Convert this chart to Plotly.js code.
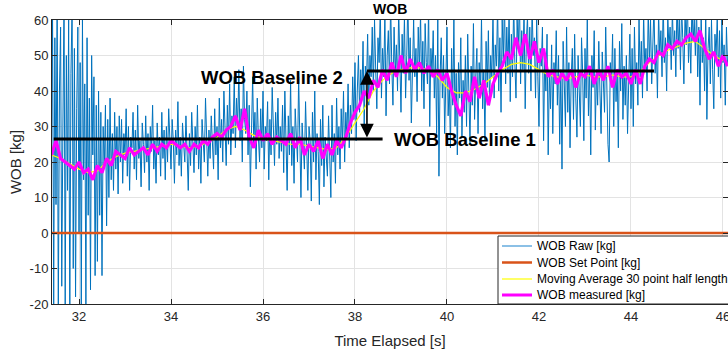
<!DOCTYPE html>
<html>
<head>
<meta charset="utf-8">
<script src="https://cdn.plot.ly/plotly-3.0.1.min.js"></script>
<style>html,body{margin:0;padding:0;background:#fff;}#chart{width:728px;height:353px;}</style>
</head>
<body>
<div id="chart"></div>
<script>
// ---- Data ----
var rawStart = 31.40, rawStep = 0.025;
var wobRaw = [
  20, 62, -20, 55, 8, 68, -24, 40, 58, -15, 30, 66, -22, 50, 12, 60, -25, 45, 64, -10,
  52, -18, 35, 58, 0, 48, -22, 60, 15, 42, -20, 55, 5, 38, -16, 50, 22, 44, -12, 36,
  -8, 40, 5, 34, -12, 30, 18, 36, 2, 32, 10, 38, 15, 28, 12, 34, 18, 30, 11, 33,
  20, 32, 14, 28, 22, 35, 16, 30, 12, 27, 24, 34, 18, 29, 15, 36, 21, 26, 13, 31,
  25, 17, 33, 20, 28, 12, 30, 23, 36, 18, 26, 14, 31, 22, 27, 16, 34, 21, 29, 15,
  30, 20, 35, 24, 18, 32, 26, 14, 29, 22, 37, 19, 27, 16, 31, 25, 20, 33, 23, 12,
  28, 19, 34, 24, 17, 30, 22, 36, 18, 27, 14, 32, 25, 20, 38, 23, 16, 29, 21, 33,
  26, 18, 35, 22, 30, 15, 38, 24, 32, 20, 40, 27, 19, 36, 25, 42, 22, 33, 28, 44,
  24, 38, 30, 46, 26, 35, 20, 47, 32, 28, 40, 22, 36, 13, 30, 44, 25, 34, 18, 38,
  27, 20, 35, 24, 40, 18, 30, 26, 37, 15, 32, 22, 41, 28, 19, 34, 25, 38, 21, 30,
  23, 36, 17, 40, 26, 12, 33, 22, 43, 19, 30, 14, 35, 27, 20, 44, 24, 10, 31, 25,
  18, 37, 22, 12, 30, 26, 9, 34, 20, 40, 15, 28, 23, 8, 32, 19, 36, 13, 27, 21,
  16, 33, 24, 10, 36, 20, 28, 14, 38, 22, 30, 18, 35, 25, 40, 20, 34, 27, 42, 24,
  36, 28, 44, 32, 48, 26, 40, 50, 34, 46, 38, 54, 30, 47, 42, 56, 36, 50, 44, 58,
  40, 60, 46, 35, 55, 48, 64, 38, 52, 44, 62, 33, 50, 57, 42, 65, 47, 36, 58, 45,
  53, 40, 63, 47, 34, 56, 45, 61, 38, 50, 66, 43, 55, 31, 48, 60, 44, 52, 37, 58,
  46, 62, 40, 54, 35, 59, 48, 42, 64, 30, 52, 45, 57, 38, 50, 28, 60, 16, 44, 55,
  38, 50, 28, 46, 58, 33, 42, 24, 52, 36, 60, 30, 45, 22, 48, 38, 55, 27, 43, 34,
  50, 30, 56, 40, 25, 47, 36, 59, 32, 44, 52, 28, 48, 38, 61, 35, 46, 26, 54, 41,
  57, 36, 50, 44, 62, 38, 53, 47, 64, 40, 55, 34, 60, 49, 66, 42, 58, 45, 63, 37,
  56, 44, 65, 48, 38, 60, 52, 67, 42, 57, 46, 63, 35, 54, 61, 45, 58, 40, 64, 50,
  55, 38, 60, 44, 30, 52, 47, 58, 26, 50, 40, 56, 22, 45, 35, 53, 28, 48, 42, 57,
  36, 50, 25, 46, 18, 54, 40, 30, 58, 34, 48, 24, 44, 52, 32, 56, 38, 27, 50, 42,
  30, 55, 45, 26, 52, 38, 60, 33, 47, 22, 50, 41, 57, 29, 46, 36, 54, 40, 28, 51,
  44, 34, 58, 38, 25, 20, 48, 42, 56, 30, 52, 37, 46, 24, 54, 40, 59, 32, 47, 36,
  50, 28, 45, 56, 35, 52, 30, 58, 42, 48, 36, 60, 44, 54, 38, 62, 46, 52, 40, 63,
  48, 60, 42, 56, 64, 45, 53, 38, 62, 50, 57, 44, 65, 48, 55, 40, 61, 52, 58, 46,
  63, 50, 57, 44, 66, 52, 60, 46, 64, 55, 42, 62, 53, 67, 48, 58, 45, 65, 54, 60,
  50, 64, 44, 58, 36, 62, 48, 55, 40, 63, 32, 52, 58, 42, 60, 46, 35, 56, 50, 61,
  44, 57, 38, 60, 48, 53, 36, 58, 47
];

var measStart = 31.4, measStep = 0.1;
var wobMeasured = [
  22, 26, 21, 20, 19, 18, 20, 17, 18, 15,
  19, 17, 21, 19, 23, 22, 21, 24, 22, 23,
  24, 22, 25, 23, 25, 24, 26, 25, 24, 25,
  23, 25, 24, 26, 25, 27, 28, 27, 29, 30,
  33, 29, 35, 27, 24, 29, 26, 28, 25, 27,
  26, 25, 28, 24, 27, 22, 25, 23, 26, 21,
  25, 22, 26, 24, 27, 31, 34, 36, 40, 38,
  43, 41, 46, 43, 48, 44, 50, 45, 49, 46,
  48, 45, 47, 44, 46, 43, 45, 40, 36, 33,
  40, 37, 44, 38, 43, 36, 42, 45, 47, 51,
  49, 55, 50, 56, 49, 54, 48, 52, 44, 46,
  42, 45, 43, 46, 41, 45, 44, 47, 42, 46,
  43, 47, 41, 46, 44, 45, 42, 46, 42, 47,
  49, 48, 51, 50, 53, 52, 54, 53, 55, 56,
  54, 57, 52, 49, 51, 47, 50, 47
];

var avgStart = 31.4, avgStep = 0.2;
var movingAvg = [
  22, 21, 19.5, 18, 17, 17.5, 20, 21.5, 22.5, 23,
  23.5, 24, 24.5, 25, 24.5, 24, 24.5, 25.5, 27, 29,
  30, 29, 27.5, 26.5, 26, 25.5, 25, 25, 24.5, 24,
  23.5, 24, 27, 31, 35, 40, 43, 45, 46, 46.5,
  46.5, 46, 44, 41, 39.5, 39.5, 40.5, 42, 44, 46,
  47.5, 48, 47.5, 46, 44.5, 44, 43.5, 44, 44.5, 44,
  44, 44.5, 44, 44, 45.5, 48, 50, 51.5, 52.5, 53.5,
  54, 52, 50, 48.5
];

var setPointX = [31.40, 46.12];
var setPointY = [0, 0];

var baseline1X = [31.45, 38.6];
var baseline1Y = [26.5, 26.5];
var baseline2X = [38.26, 44.5];
var baseline2Y = [45.6, 45.6];

var legendNames = ["WOB Raw [kg]", "WOB Set Point [kg]", "Moving Average 30 point half length", "WOB measured [kg]"];
var legendColors = ["#3f96d6", "#D95319", "#FFFF00", "#FF00FF"];
var legendWidths = [1.2, 2.5, 1.2, 3];
var xTicks = [32, 34, 36, 38, 40, 42, 44, 46];
var yTicks = [-20, -10, 0, 10, 20, 30, 40, 50, 60];

// ---- Build x arrays from sample start and step ----
function times(start, step, n) {
  var t = [];
  for (var i = 0; i < n; i++) t.push(+(start + i * step).toFixed(3));
  return t;
}
var rawT = times(rawStart, rawStep, wobRaw.length);
var measT = times(measStart, measStep, wobMeasured.length);
var avgT = times(avgStart, avgStep, movingAvg.length);

var font = "Liberation Sans, Arial, Helvetica, sans-serif";

var traces = [
  {x: rawT, y: wobRaw, type: "scatter", mode: "lines", name: legendNames[0],
   line: {color: "#0072BD", width: 1}},
  {x: setPointX, y: setPointY, type: "scatter", mode: "lines", name: legendNames[1],
   line: {color: "#D95319", width: 2.5}},
  {x: avgT, y: movingAvg, type: "scatter", mode: "lines", name: legendNames[2],
   line: {color: "#FFFF00", width: 1.2}},
  {x: measT, y: wobMeasured, type: "scatter", mode: "lines", name: legendNames[3],
   line: {color: "#FF00FF", width: 3.2}},
  {x: baseline1X, y: baseline1Y, type: "scatter", mode: "lines", showlegend: false,
   line: {color: "#000000", width: 3}},
  {x: baseline2X, y: baseline2Y, type: "scatter", mode: "lines", showlegend: false,
   line: {color: "#000000", width: 3}}
];

// Legend box (MATLAB-style compact legend) in paper coordinates
var plotL = 52, plotR = 728, plotT = 20, plotB = 304;
function px(xp) { return (xp - plotL) / (plotR - plotL); }
function py(yp) { return (plotB - yp) / (plotB - plotT); }
var legRowsY = [246, 262.5, 279, 295];

var shapes = [
  {type: "rect", xref: "paper", yref: "paper", x0: px(498), x1: px(760), y0: py(304), y1: py(236),
   fillcolor: "#ffffff", line: {color: "#262626", width: 1}, layer: "above"}
];
var annotations = [
  {x: baseline2X[0], y: baseline2Y[0], ax: baseline2X[0], ay: baseline1Y[0],
   xref: "x", yref: "y", axref: "x", ayref: "y", text: "", showarrow: true,
   arrowhead: 2, startarrowhead: 2, arrowside: "end+start", arrowwidth: 1.6, arrowsize: 1.7, startarrowsize: 1.7, arrowcolor: "#000"},
  {x: 37.78, y: 43.7, xref: "x", yref: "y", text: "<b>WOB Baseline 2</b>", showarrow: false,
   xanchor: "right", yanchor: "middle", font: {family: font, size: 18.5, color: "#000"}},
  {x: 38.80, y: 26.2, xref: "x", yref: "y", text: "<b>WOB Baseline 1</b>", showarrow: false,
   xanchor: "left", yanchor: "middle", font: {family: font, size: 18.5, color: "#000"}}
];
for (var i = 0; i < legendNames.length; i++) {
  shapes.push({type: "line", xref: "paper", yref: "paper", x0: px(502), x1: px(532),
    y0: py(legRowsY[i]), y1: py(legRowsY[i]), line: {color: legendColors[i], width: legendWidths[i]}, layer: "above"});
  annotations.push({x: px(535), y: py(legRowsY[i]), xref: "paper", yref: "paper", text: legendNames[i],
    showarrow: false, xanchor: "left", yanchor: "middle", font: {family: font, size: 12, color: "#000"}});
}

var layout = {
  width: 728, height: 353,
  margin: {l: 52, r: 0, t: 20, b: 49, pad: 0},
  paper_bgcolor: "#ffffff", plot_bgcolor: "#ffffff",
  font: {family: font, size: 13, color: "#262626"},
  title: {text: "<b>WOB</b>", font: {family: font, size: 14, color: "#000"}, x: 0.536, xanchor: "center", y: 0.973, yanchor: "middle"},
  showlegend: false,
  xaxis: {range: [31.413, 46.109], tickvals: xTicks, ticktext: xTicks.map(String),
    showgrid: true, gridcolor: "#e3e3e3", gridwidth: 1, zeroline: false,
    showline: true, linecolor: "#262626", linewidth: 1, mirror: "ticks",
    ticks: "inside", ticklen: 5, tickcolor: "#262626", ticklabeloverflow: "allow",
    tickfont: {family: font, size: 13, color: "#262626"},
    title: {text: "Time Elapsed [s]", font: {family: font, size: 15, color: "#262626"}, standoff: 12}},
  yaxis: {range: [-20, 60], tickvals: yTicks, ticktext: yTicks.map(String),
    showgrid: true, gridcolor: "#e3e3e3", gridwidth: 1, zeroline: false,
    showline: true, linecolor: "#262626", linewidth: 1, mirror: "ticks",
    ticks: "inside", ticklen: 5, tickcolor: "#262626",
    tickfont: {family: font, size: 13, color: "#262626"},
    title: {text: "WOB [kg]", font: {family: font, size: 15, color: "#262626"}, standoff: 4}},
  shapes: shapes,
  annotations: annotations
};

Plotly.newPlot("chart", traces, layout, {displayModeBar: false, staticPlot: true});
</script>
</body>
</html>
